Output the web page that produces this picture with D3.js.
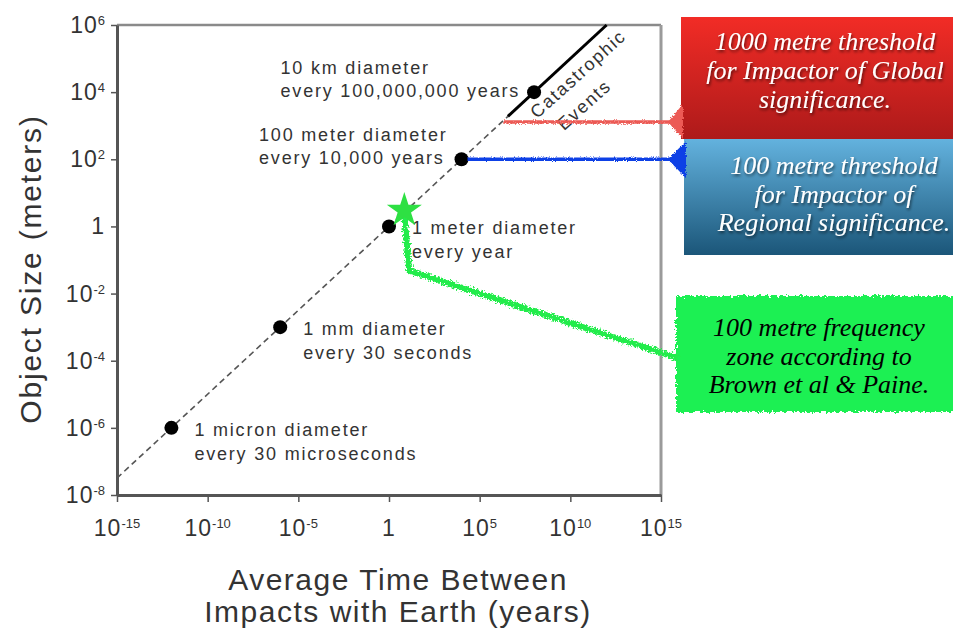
<!DOCTYPE html>
<html>
<head>
<meta charset="utf-8">
<script src="https://cdn.jsdelivr.net/npm/d3@7"></script>
<style>
    body { margin: 0; background: #fff; }
    svg text { font-family: "Liberation Sans", Arial, sans-serif; }
    svg text.note { font-family: "Liberation Serif", "Times New Roman", serif; font-style: italic; }
</style>
</head>
<body>
<svg id="chart" width="953" height="632"></svg>
<script>
// axis ticks (powers of ten)
var xTickExps = [-15, -10, -5, 0, 5, 10, 15];
var yTickExps = [6, 4, 2, 0, -2, -4, -6, -8];

// impact events: average time (years) and object size (meters)
var eventTimes = [1e-12, 1e-6, 1, 1e4, 1e8];
var eventSizes = [1e-6, 1e-3, 1, 1e2, 1e4];
var eventTitles = ["1 micron diameter", "1 mm diameter", "1 meter diameter", "100 meter diameter", "10 km diameter"];
var eventRates = ["every 30 microseconds", "every 30 seconds", "every year", "every 10,000 years", "every 100,000,000 years"];
var labelSides = ["right", "right", "right", "left", "left"];

// trend line: dashed part then solid "catastrophic" part
var dashedTimes = [1e-15, 3.6e6];
var dashedSizes = [3.2e-8, 1.9e3];
var solidTimes = [3.6e6, 1e12];
var solidSizes = [1.9e3, 1e6];

// thresholds marked by the annotations
var globalThreshold = { size: 1300, from: 2e6 };
var regionalThreshold = { size: 100, from: 1e4 };
var browneStar = { time: 7, size: 3 };
var browneBend = { time: 13, size: 0.048 };

var globalText = ["1000 metre threshold", "for Impactor of Global", "significance."];
var regionalText = ["100 metre threshold", "for Impactor of", "Regional significance."];
var browneText = ["100 metre frequency", "zone according to", "Brown et al & Paine."];

var svg = d3.select("#chart");

var x = d3.scaleLog().domain([1e-15, 1e15]).range([117, 661]);
var y = d3.scaleLog().domain([1e-8, 1e6]).range([495, 25]);

// filters and gradients
var defs = svg.append("defs");
function addRough(id, freq, octaves, seed, scale) {
    var f = defs.append("filter").attr("id", id)
        .attr("filterUnits", "userSpaceOnUse")
        .attr("x", 0).attr("y", 0).attr("width", 953).attr("height", 632);
    f.append("feTurbulence").attr("type", "fractalNoise")
        .attr("baseFrequency", freq).attr("numOctaves", octaves).attr("seed", seed).attr("result", "n");
    f.append("feDisplacementMap").attr("in", "SourceGraphic").attr("in2", "n")
        .attr("scale", scale).attr("xChannelSelector", "R").attr("yChannelSelector", "G");
}
addRough("rough", 0.9, 1, 3, 4);
addRough("wavy", 0.6, 2, 5, 7);
addRough("torn", 0.35, 2, 7, 7);

var shadow = defs.append("filter").attr("id", "shadow")
    .attr("x", "-10%").attr("y", "-30%").attr("width", "130%").attr("height", "160%");
shadow.append("feDropShadow").attr("dx", 1).attr("dy", 2)
    .attr("stdDeviation", 1.5).attr("flood-color", "#000").attr("flood-opacity", 0.6);

function addGradient(id, top, bottom) {
    var g = defs.append("linearGradient").attr("id", id)
        .attr("x1", 0).attr("y1", 0).attr("x2", 0).attr("y2", 1);
    g.append("stop").attr("offset", "0%").attr("stop-color", top);
    g.append("stop").attr("offset", "100%").attr("stop-color", bottom);
}
addGradient("redGrad", "#f22c26", "#ad1a1a");
addGradient("blueGrad", "#63b2de", "#1b5679");

// write 10^e with a superscript
function powLabel(sel, e) {
    if (e === 0) {
        sel.text("1");
        return;
    }
    sel.append("tspan").text("10");
    sel.append("tspan").attr("dy", -8).attr("font-size", 13).attr("letter-spacing", 0).text(e);
}

// frame (top and right)
svg.append("line")
    .attr("x1", x.range()[0]).attr("x2", x.range()[1])
    .attr("y1", y.range()[1]).attr("y2", y.range()[1])
    .attr("stroke", "#8a8a8a").attr("stroke-width", 2.5);
svg.append("line")
    .attr("x1", x.range()[1]).attr("x2", x.range()[1])
    .attr("y1", y.range()[1]).attr("y2", y.range()[0])
    .attr("stroke", "#9a9a9a").attr("stroke-width", 3);

// axes
var xAxis = svg.append("g")
    .attr("transform", "translate(0," + y.range()[0] + ")")
    .call(d3.axisBottom(x)
        .tickValues(xTickExps.map(function (e) { return Math.pow(10, e); }))
        .tickSize(7).tickSizeOuter(0).tickFormat(""));
xAxis.select(".domain").attr("stroke", "#555").attr("stroke-width", 3);
xAxis.selectAll(".tick line").attr("stroke", "#555").attr("stroke-width", 1.5);

var yAxis = svg.append("g")
    .attr("transform", "translate(" + x.range()[0] + ",0)")
    .call(d3.axisLeft(y)
        .tickValues(yTickExps.map(function (e) { return Math.pow(10, e); }))
        .tickSize(6).tickSizeOuter(0).tickFormat(""));
yAxis.select(".domain").attr("stroke", "#555").attr("stroke-width", 3);
yAxis.selectAll(".tick line").attr("stroke", "#555").attr("stroke-width", 1.5);

svg.append("g").selectAll("text")
    .data(xTickExps)
    .enter().append("text")
    .attr("x", function (d) { return x(Math.pow(10, d)); })
    .attr("y", 536)
    .attr("text-anchor", "middle")
    .attr("font-size", 23)
    .attr("letter-spacing", 1)
    .attr("fill", "#333")
    .each(function (d) { powLabel(d3.select(this), d); });

svg.append("g").selectAll("text")
    .data(yTickExps)
    .enter().append("text")
    .attr("x", 105)
    .attr("y", function (d) { return y(Math.pow(10, d)) + 8; })
    .attr("text-anchor", "end")
    .attr("font-size", 23)
    .attr("letter-spacing", 1)
    .attr("fill", "#333")
    .each(function (d) { powLabel(d3.select(this), d); });

// axis titles
svg.append("text")
    .attr("transform", "translate(41,269) rotate(-90)")
    .attr("text-anchor", "middle")
    .attr("font-size", 30)
    .attr("letter-spacing", 1.8)
    .attr("fill", "#333")
    .text("Object Size (meters)");

svg.append("text")
    .attr("x", 398).attr("y", 590)
    .attr("text-anchor", "middle")
    .attr("font-size", 30)
    .attr("letter-spacing", 1.5)
    .attr("fill", "#333")
    .text("Average Time Between");
svg.append("text")
    .attr("x", 398).attr("y", 622)
    .attr("text-anchor", "middle")
    .attr("font-size", 30)
    .attr("letter-spacing", 1.5)
    .attr("fill", "#333")
    .text("Impacts with Earth (years)");

// trend line
var line = d3.line()
    .x(function (d) { return x(d[0]); })
    .y(function (d) { return y(d[1]); });

svg.append("path")
    .attr("d", line(d3.zip(dashedTimes, dashedSizes)))
    .attr("fill", "none")
    .attr("stroke", "#555")
    .attr("stroke-width", 1.6)
    .attr("stroke-dasharray", "6,4");

svg.append("path")
    .attr("d", line(d3.zip(solidTimes, solidSizes)))
    .attr("fill", "none")
    .attr("stroke", "#000")
    .attr("stroke-width", 3);

// event dots
svg.append("g").selectAll("circle")
    .data(eventTimes)
    .enter().append("circle")
    .attr("cx", function (d) { return x(d); })
    .attr("cy", function (d, i) { return y(eventSizes[i]); })
    .attr("r", 7)
    .attr("fill", "#000");

// event labels
var labels = svg.append("g").selectAll("text")
    .data(eventTimes)
    .enter().append("text")
    .attr("font-size", 18)
    .attr("letter-spacing", 1.8)
    .attr("fill", "#333");

labels.each(function (d, i) {
    var t = d3.select(this);
    var cx = x(d), cy = y(eventSizes[i]);
    var a = t.append("tspan").text(eventTitles[i]);
    var b = t.append("tspan").text(eventRates[i]);
    if (labelSides[i] === "right") {
        a.attr("x", cx + 23).attr("y", cy + 8);
        b.attr("x", cx + 23).attr("y", cy + 32);
    } else {
        var w = Math.max(a.node().getComputedTextLength(), b.node().getComputedTextLength());
        a.attr("x", cx - 14 - w).attr("y", cy - 18);
        b.attr("x", cx - 14 - w).attr("y", cy + 5);
    }
});

// catastrophic events label along the solid part
var kx = x(eventTimes[4]), ky = y(eventSizes[4]);
svg.append("text")
    .attr("transform", "translate(" + (kx + 3) + "," + (ky + 27) + ") rotate(-42)")
    .attr("font-size", 18).attr("letter-spacing", 1.7).attr("fill", "#333")
    .text("Catastrophic");
svg.append("text")
    .attr("transform", "translate(" + (kx + 30) + "," + (ky + 39) + ") rotate(-42)")
    .attr("font-size", 18).attr("letter-spacing", 1.7).attr("fill", "#333")
    .text("Events");

// annotation boxes
function boxText(lines, cx, y0, step, fill, useShadow) {
    var g = svg.append("g");
    if (useShadow) g.attr("filter", "url(#shadow)");
    g.selectAll("text")
        .data(lines)
        .enter().append("text")
        .attr("class", "note")
        .attr("x", cx)
        .attr("y", function (d, i) { return y0 + i * step; })
        .attr("text-anchor", "middle")
        .attr("font-size", 26)
        .attr("fill", fill)
        .text(function (d) { return d; });
}

svg.append("rect").attr("x", 681).attr("y", 17).attr("width", 272).attr("height", 122)
    .attr("fill", "url(#redGrad)");
boxText(globalText, 825, 50, 29, "#fff", true);

svg.append("rect").attr("x", 684).attr("y", 139).attr("width", 269).attr("height", 116)
    .attr("fill", "url(#blueGrad)");
boxText(regionalText, 834, 174, 28.5, "#fff", true);

svg.append("g").attr("filter", "url(#torn)")
    .append("rect").attr("x", 676).attr("y", 296).attr("width", 290).attr("height", 116)
    .attr("fill", "#1ef052");
boxText(browneText, 819, 336, 28.5, "#000", false);

// leader lines to the boxes
var redLeader = svg.append("g").attr("filter", "url(#rough)");
var ry = y(globalThreshold.size);
redLeader.append("line")
    .attr("x1", x(globalThreshold.from)).attr("x2", 670)
    .attr("y1", ry).attr("y2", ry)
    .attr("stroke", "#ec5a55").attr("stroke-width", 3.5);
redLeader.append("path")
    .attr("d", "M668," + ry + "L683," + (ry - 18) + "L683," + (ry + 17) + "Z")
    .attr("fill", "#ec5a55");

var blueLeader = svg.append("g").attr("filter", "url(#rough)");
var by = y(regionalThreshold.size);
blueLeader.append("line")
    .attr("x1", x(regionalThreshold.from) + 6).attr("x2", 670)
    .attr("y1", by).attr("y2", by)
    .attr("stroke", "#1040e6").attr("stroke-width", 3.5);
blueLeader.append("path")
    .attr("d", "M668," + by + "L686," + (by - 18) + "L686," + (by + 19) + "Z")
    .attr("fill", "#1040e6");

var sx = x(browneStar.time), sy = y(browneStar.size);
svg.append("path")
    .attr("filter", "url(#wavy)")
    .attr("d", "M" + sx + "," + (sy + 4) +
        "L" + x(browneBend.time) + "," + y(browneBend.size) +
        "L678,358")
    .attr("fill", "none")
    .attr("stroke", "#24ec4c")
    .attr("stroke-width", 6)
    .attr("stroke-linejoin", "round");

svg.append("path")
    .attr("transform", "translate(" + sx + "," + sy + ")")
    .attr("d", d3.symbol().type(d3.symbolStar).size(380)())
    .attr("fill", "#2ee043");
</script>
</body>
</html>
